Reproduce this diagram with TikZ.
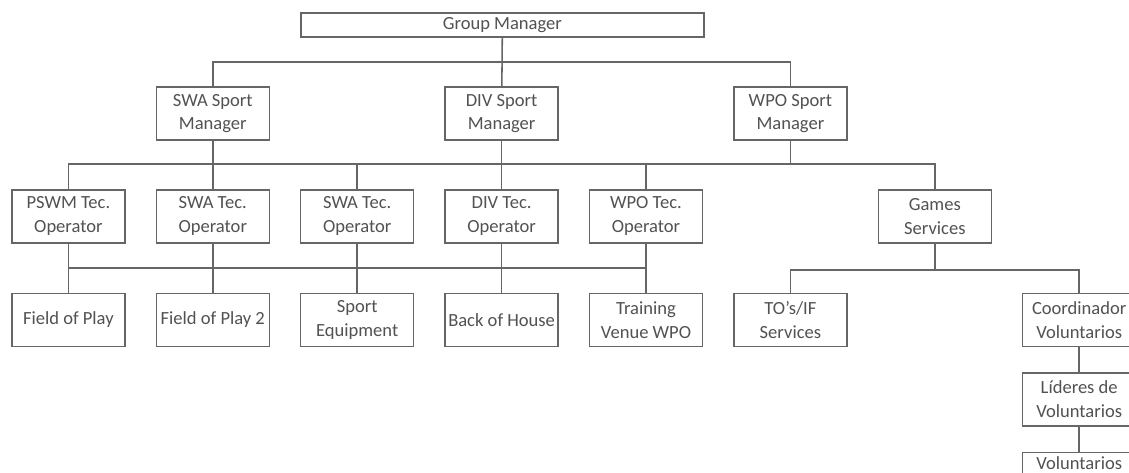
\documentclass[tikz,border=0pt]{standalone}
\usepackage{fontspec}
\setmainfont{Carlito}
\usepackage{tikz}
\usetikzlibrary{positioning}

\begin{document}
\begin{tikzpicture}[
  every node/.style={align=center},
  box/.style   ={rectangle, draw=black!60, line width=1.1pt, fill=white,
                 text=black!68, minimum width=28.25mm, minimum height=13.25mm,
                 inner sep=1pt, font=\fontsize{13.2}{17}\selectfont},
  topbox/.style={box, minimum width=100.75mm, minimum height=6mm},
  link/.style  ={draw=black!60, line width=1.1pt},
]

\useasboundingbox (0,0) rectangle (28.225,-11.8);
\clip (0,0) rectangle (28.225,-11.8);

% Top of the tree
\node[topbox] (gm) at (12.56,-0.625) {Group Manager};

% Sport managers
\node[box] (swasm) at (5.32,-2.84)  {SWA Sport\\Manager};
\node[box] (divsm) at (12.54,-2.84) {DIV Sport\\Manager};
\node[box] (wposm) at (19.76,-2.84) {WPO Sport\\Manager};

% Technical operators + games services
\node[box] (pswm)    at (1.71,-5.41)  {PSWM Tec.\\Operator};
\node[box] (swatec)  at (5.32,-5.41)  {SWA Tec.\\Operator};
\node[box] (swatecb) at (8.93,-5.41)  {SWA Tec.\\Operator};
\node[box] (divtec)  at (12.54,-5.41) {DIV Tec.\\Operator};
\node[box] (wpotec)  at (16.15,-5.41) {WPO Tec.\\Operator};
\node[box] (games)   at (23.37,-5.41) {Games\\Services};

% Venue areas
\node[box] (fop)   at (1.71,-8.0)  {Field of Play};
\node[box] (fopb)  at (5.32,-8.0)  {Field of Play 2};
\node[box] (equip) at (8.93,-8.0)  {Sport\\Equipment};
\node[box] (boh)   at (12.54,-8.0) {Back of House};
\node[box] (train) at (16.15,-8.0) {Training\\Venue WPO};

% Games services branch
\node[box] (tos)   at (19.76,-8.0) {TO's/IF\\Services};
\node[box] (coord) at (26.98,-8.0) {Coordinador\\Voluntarios};
\node[box, below=6.25mm of coord] (lider) {Líderes de\\Voluntarios};
\node[box, below=6.25mm of lider] (vol)   {Voluntarios\\[6pt]\mbox{}};

% Group manager -> sport managers
\coordinate (bus1) at (12.54,-1.55);
\draw[link] (gm) -- (divsm);
\draw[link] (swasm.north) |- (bus1) -| (wposm.north);

% Sport managers -> operators
\coordinate (bus2) at (12.54,-4.10);
\draw[link] (pswm.north) |- (bus2) -| (games.north);
\draw[link] (swasm) -- (swatec);
\draw[link] (divsm) -- (divtec);
\draw[link] (wposm.south) -- (wposm.south |- bus2);
\foreach \n in {swatecb, wpotec}
  \draw[link] (\n.north) -- (\n.north |- bus2);

% Operators -> venue areas
\coordinate (bus3) at (8.93,-6.70);
\draw[link] (pswm.south |- bus3) -- (wpotec.south |- bus3);
\foreach \a/\b in {pswm/fop, swatec/fopb, swatecb/equip, divtec/boh, wpotec/train}
  \draw[link] (\a) -- (\b);

% Games services -> volunteers
\coordinate (bus4) at (23.37,-6.75);
\draw[link] (games) -- (bus4);
\draw[link] (tos.north) |- (bus4) -| (coord.north);
\draw[link] (coord) -- (lider);
\draw[link] (lider) -- (vol);

\end{tikzpicture}
\end{document}
